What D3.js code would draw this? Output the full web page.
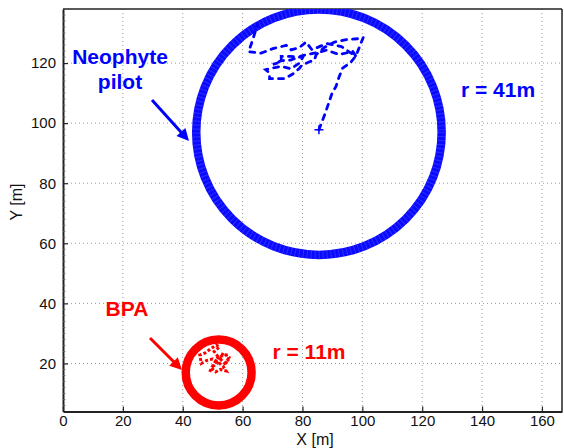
<!DOCTYPE html>
<html>
<head>
<meta charset="utf-8">
<script src="https://cdn.jsdelivr.net/npm/d3@7"></script>
<style>
  body { margin: 0; background: #fff; }
  text { font-family: "Liberation Sans", Arial, sans-serif; }
</style>
</head>
<body>
<div id="chart"></div>
<script>
// ticks
var xTicks = [0, 20, 40, 60, 80, 100, 120, 140, 160],
    yTicks = [20, 40, 60, 80, 100, 120];

// safety circles: [cx, cy, r]
var neophyteCircle = [85.5, 97, 41],
    bpaCircle = [52, 17, 11];

// neophyte pilot ground track
var neophyteX = [85.5, 87.5, 89.9, 91.2, 92.1, 93.4, 96.2, 97.9, 100.3, 98.4, 94.6, 90.7, 87.3, 84.6, 84, 79.9, 79, 77.3, 74, 69,
                 69, 67.7, 69.6, 72.9, 76.2, 79, 80.1, 75.9, 72.9, 72.9, 70.1, 73, 76, 80, 85, 88, 92.3, 96.8, 97.9, 93,
                 88, 83.2, 81.2, 79, 76.2, 74.6, 70.1, 66.2, 62, 63.4, 65];
var neophyteY = [97.8, 103, 110, 112.2, 115, 118.3, 120.3, 122.5, 128.5, 128.1, 127.8, 127, 125.2, 122.8, 121.1, 119.4, 118.3, 116.7, 114.8, 114.8,
                 116.7, 117.8, 118.3, 118.9, 118.1, 120, 121.9, 122.2, 122.2, 120.3, 119.6, 120.8, 121, 122.5, 123.5, 124.3, 122.8, 123.9, 122.2, 125.5,
                 126.5, 124.4, 127, 125.2, 124.4, 125.9, 124.8, 123.3, 123.8, 127.8, 133];

// BPA ground track
var bpaX = [49, 50.1, 51.8, 54, 55.1, 54.6, 51.8, 50.5, 52.3, 51.2, 49.5, 47.5, 45.7, 46.2, 48, 50, 51.8, 53.5, 54.5, 52.5,
            51, 49.5, 52, 53.5, 55.5, 54];
var bpaY = [17.2, 19.4, 22.2, 20, 21.1, 22.8, 22.2, 24, 25.5, 26.1, 25, 23.5, 22.8, 20, 21, 21.5, 20.5, 19, 17.5, 18,
            17.2, 18.5, 20.5, 23.5, 22, 19.5];

var W = 564, H = 448,
    pL = 63, pR = 562, pT = 9, pB = 411.5;

var x = d3.scaleLinear().domain([0, 166.7]).range([pL, pR]);
var y = d3.scaleLinear().domain([4, 138]).range([pB, pT]);

var svg = d3.select("#chart").append("svg")
    .attr("width", W)
    .attr("height", H);

svg.append("defs").append("clipPath").attr("id", "clip")
  .append("rect")
    .attr("x", pL).attr("y", pT)
    .attr("width", pR - pL).attr("height", pB - pT);

// grid
svg.append("g").selectAll("line").data(xTicks.filter(function(d){ return d > 0; }))
  .enter().append("line")
    .attr("x1", function(d){ return x(d); }).attr("x2", function(d){ return x(d); })
    .attr("y1", pT).attr("y2", pB)
    .attr("stroke", "#999").attr("stroke-width", 1).attr("stroke-dasharray", "1,3");

svg.append("g").selectAll("line").data(yTicks)
  .enter().append("line")
    .attr("y1", function(d){ return y(d); }).attr("y2", function(d){ return y(d); })
    .attr("x1", pL).attr("x2", pR)
    .attr("stroke", "#999").attr("stroke-width", 1).attr("stroke-dasharray", "1,3");

// axes
var xAxis = svg.append("g")
    .attr("transform", "translate(0," + pB + ")")
    .call(d3.axisBottom(x).tickValues(xTicks).tickSizeInner(-5).tickSizeOuter(0).tickPadding(4));
var yAxis = svg.append("g")
    .attr("transform", "translate(" + pL + ",0)")
    .call(d3.axisLeft(y).tickValues(yTicks).tickSizeInner(-5).tickSizeOuter(0).tickPadding(7));

[xAxis, yAxis].forEach(function(a){
  a.select(".domain").attr("stroke", "#222").attr("stroke-width", 2);
  a.selectAll(".tick line").attr("stroke", "#222").attr("stroke-width", 1.2);
  a.selectAll(".tick text").attr("font-size", 15).attr("fill", "#111")
    .style("font-family", "'Liberation Sans', Arial, sans-serif");
});

// minor ticks on y axis
svg.append("g").selectAll("line").data(d3.range(6, 138, 2).filter(function(d){ return d % 20 !== 0; }))
  .enter().append("line")
    .attr("x1", pL).attr("x2", pL + 2.5)
    .attr("y1", function(d){ return y(d); }).attr("y2", function(d){ return y(d); })
    .attr("stroke", "#666").attr("stroke-width", 0.8);

// box top/right
svg.append("line").attr("x1", pL).attr("x2", pR).attr("y1", pT).attr("y2", pT)
    .attr("stroke", "#222").attr("stroke-width", 1.5);
svg.append("line").attr("x1", pR).attr("x2", pR).attr("y1", pT).attr("y2", pB)
    .attr("stroke", "#222").attr("stroke-width", 1.5);

svg.append("text").attr("x", 315).attr("y", 445)
    .attr("text-anchor", "middle").attr("font-size", 16).attr("fill", "#111").text("X [m]");
svg.append("text").attr("transform", "translate(22,202) rotate(-90)")
    .attr("text-anchor", "middle").attr("font-size", 16).attr("fill", "#111").text("Y [m]");

var plot = svg.append("g").attr("clip-path", "url(#clip)");

function drawCircle(c, color, sw){
  var g = plot.append("g");
  g.append("circle")
      .attr("cx", x(c[0])).attr("cy", y(c[1]))
      .attr("r", x(c[2]) - x(0))
      .attr("fill", "none").attr("stroke", color).attr("stroke-width", sw);
  return g;
}

var blue = drawCircle(neophyteCircle, "#0a0aff", 8.5);
blue.append("circle")
    .attr("cx", x(neophyteCircle[0])).attr("cy", y(neophyteCircle[1]))
    .attr("r", x(neophyteCircle[2]) - x(0))
    .attr("fill", "none").attr("stroke", "#7070ff").attr("stroke-width", 8.5)
    .attr("stroke-dasharray", "1,3").attr("opacity", 0.35);
drawCircle(bpaCircle, "#ff0000", 8.5);

var line = d3.line()
    .x(function(d){ return x(d[0]); })
    .y(function(d){ return y(d[1]); });

plot.append("path")
    .datum(d3.zip(neophyteX, neophyteY))
    .attr("d", line)
    .attr("fill", "none").attr("stroke", "#0000ff").attr("stroke-width", 2.8)
    .attr("stroke-linecap", "round")
    .attr("stroke-dasharray", "5,6");

plot.append("path")
    .datum(d3.zip(bpaX, bpaY))
    .attr("d", line)
    .attr("fill", "none").attr("stroke", "#ff0000").attr("stroke-width", 3)
    .attr("stroke-dasharray", "3,2");

// start marker
var sx = x(neophyteX[0]), sy = y(neophyteY[0]);
plot.append("path")
    .attr("d", "M" + (sx - 4.5) + "," + sy + "H" + (sx + 4.5) + "M" + sx + "," + (sy - 4.5) + "V" + (sy + 4.5))
    .attr("stroke", "#0000ff").attr("stroke-width", 1.5);

// annotations
function arrow(x1, y1, x2, y2, color){
  var ang = Math.atan2(y2 - y1, x2 - x1), L = 12, Wd = 6;
  svg.append("line").attr("x1", x1).attr("y1", y1)
      .attr("x2", x2 - Math.cos(ang) * 6).attr("y2", y2 - Math.sin(ang) * 6)
      .attr("stroke", color).attr("stroke-width", 3);
  var bx = x2 - Math.cos(ang) * L, by = y2 - Math.sin(ang) * L;
  svg.append("path")
      .attr("d", "M" + x2 + "," + y2 +
                 "L" + (bx - Math.sin(ang) * Wd) + "," + (by + Math.cos(ang) * Wd) +
                 "L" + (bx + Math.sin(ang) * Wd) + "," + (by - Math.cos(ang) * Wd) + "Z")
      .attr("fill", color);
}

svg.append("text").attr("x", 120).attr("y", 64).attr("text-anchor", "middle")
    .attr("font-size", 21).attr("font-weight", "bold").attr("fill", "#0000ff").text("Neophyte");
svg.append("text").attr("x", 120).attr("y", 89).attr("text-anchor", "middle")
    .attr("font-size", 21).attr("font-weight", "bold").attr("fill", "#0000ff").text("pilot");
arrow(152, 100, 189, 141, "#0000ff");

svg.append("text").attr("x", 498).attr("y", 97).attr("text-anchor", "middle")
    .attr("font-size", 21).attr("font-weight", "bold").attr("fill", "#0000ff").text("r = 41m");

svg.append("text").attr("x", 127).attr("y", 316).attr("text-anchor", "middle")
    .attr("font-size", 21).attr("font-weight", "bold").attr("fill", "#ff0000").text("BPA");
arrow(150, 338, 182, 370, "#ff0000");

svg.append("text").attr("x", 309).attr("y", 359).attr("text-anchor", "middle")
    .attr("font-size", 21).attr("font-weight", "bold").attr("fill", "#ff0000").text("r = 11m");
</script>
</body>
</html>
